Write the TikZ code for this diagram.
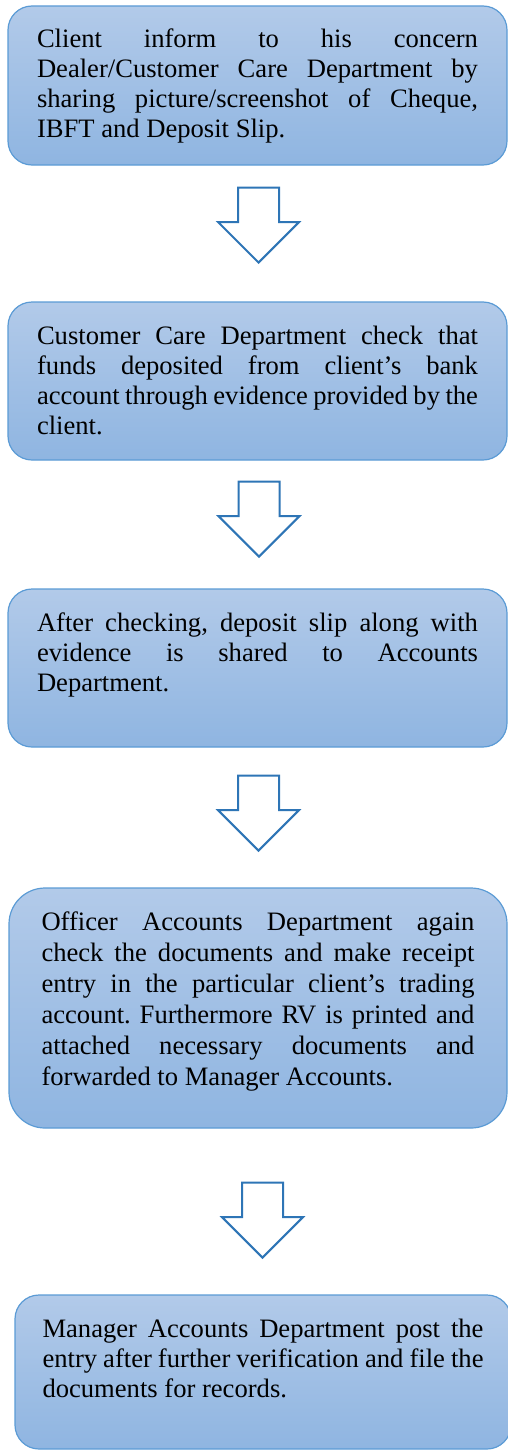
\documentclass[tikz,border=0pt]{standalone}
\usepackage{fontspec}
\setmainfont{Liberation Serif}
\usepackage{xcolor}
\usepackage{tikz}
\usetikzlibrary{shapes,shapes.arrows,positioning}

\definecolor{boxTop}{RGB}{178,202,233}
\definecolor{boxBottom}{RGB}{143,181,225}
\definecolor{boxLine}{RGB}{91,155,213}
\definecolor{arrowBlue}{RGB}{46,117,182}

% top aligned, justified paragraph of fixed height
\newcommand{\stepText}[3]{%
  \parbox[c][#1][t]{#2}{\frenchspacing\hyphenpenalty=10000\hbadness=10000
    \vspace*{10.5pt}\strut #3}}

\tikzset{
  stepBox/.style={
    rectangle,
    rounded corners=12pt,
    draw=boxLine,
    line width=0.6pt,
    top color=boxTop,
    bottom color=boxBottom,
    inner xsep=14.5pt,
    inner ysep=0pt,
    outer sep=0pt,
    anchor=north,
    font=\fontsize{13.3pt}{15pt}\selectfont
  },
  flowArrow/.style={
    single arrow,
    shape border rotate=270,
    draw=arrowBlue,
    line width=1pt,
    fill=white,
    inner sep=9.75pt,
    minimum width=39.5pt,
    minimum height=37.5pt,
    single arrow head extend=10pt,
    anchor=tip
  }
}

\begin{document}
\begin{tikzpicture}[x=0.5pt,y=-0.5pt]
  \useasboundingbox (0,0) rectangle (508,1450);

  \node[stepBox] (client) at (257.5,6) {\stepText{79.5pt}{220.5pt}{Client inform to his concern\linebreak
    Dealer/Customer Care Department by\linebreak
    sharing picture/screenshot of Cheque,\linebreak
    IBFT and Deposit Slip.}};
  \node[flowArrow] (toCare) at (258.5,264) {};

  \node[stepBox] (careCheck) at (257.5,302) {\stepText{79pt}{220.5pt}{Customer Care Department check that\linebreak
    funds deposited from client’s bank\linebreak
    account through evidence provided by the\linebreak
    client.}};
  \node[flowArrow] (toShare) at (259,558) {};

  \node[stepBox] (shareSlip) at (257.5,589) {\stepText{79pt}{220.5pt}{After checking, deposit slip along with\linebreak
    evidence is shared to Accounts\linebreak
    Department.}};
  \node[flowArrow] (toOfficer) at (258.5,852) {};

  \node[stepBox, rounded corners=18pt, inner xsep=16.25pt,
        font=\fontsize{13.3pt}{15.5pt}\selectfont] (officer) at (258,888)
    {\stepText{120pt}{216.5pt}{Officer Accounts Department again\linebreak
    check the documents and make receipt\linebreak
    entry in the particular client’s trading\linebreak
    account. Furthermore RV is printed and\linebreak
    attached necessary documents and\linebreak
    forwarded to Manager Accounts.}};
  \node[flowArrow] (toManager) at (262.5,1259) {};

  \node[stepBox, inner xsep=13.75pt] (manager) at (263,1295)
    {\stepText{77pt}{220.5pt}{Manager Accounts Department post the\linebreak
    entry after further verification and file the\linebreak
    documents for records.}};
\end{tikzpicture}
\end{document}
